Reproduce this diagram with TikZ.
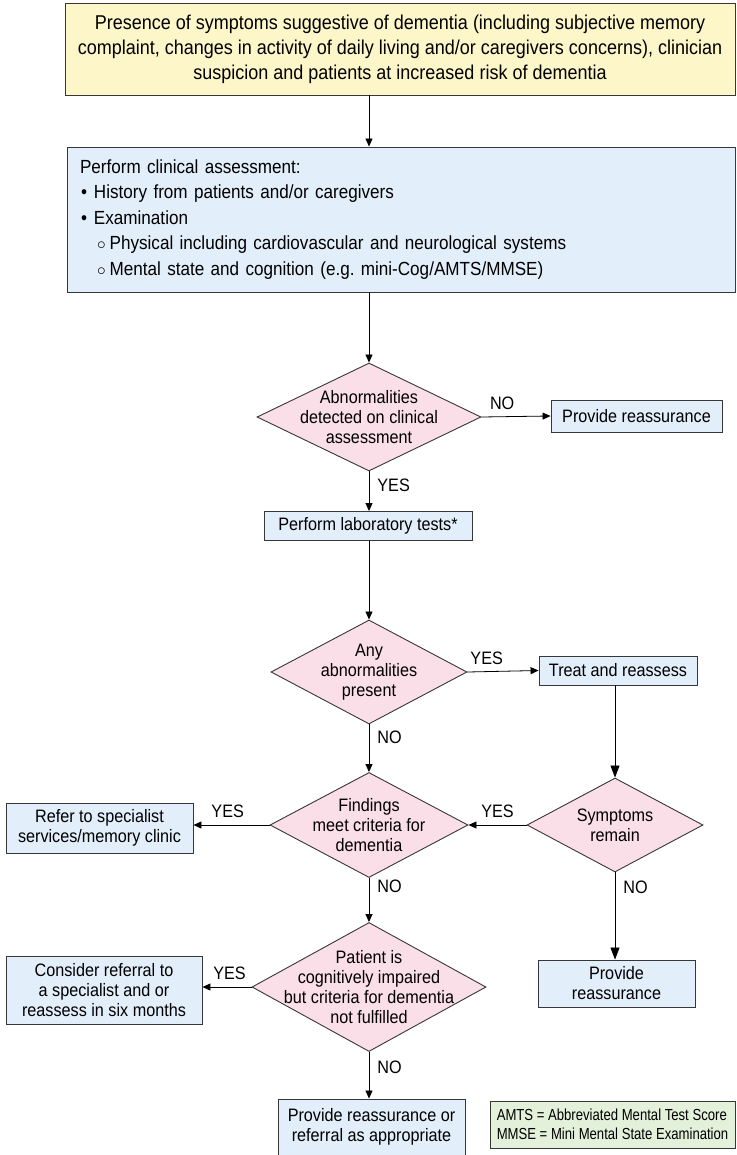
\documentclass[tikz,border=0pt]{standalone}
\usepackage{fontspec}
\setmainfont{Liberation Sans}[FakeStretch=0.9]
\newfontfamily\notefont{Liberation Sans}[FakeStretch=0.82]
\usepackage{tikz}
\usetikzlibrary{shapes.geometric, arrows.meta, positioning}
\definecolor{suspectfill}{RGB}{253,246,201}
\definecolor{stepblue}{RGB}{226,238,249}
\definecolor{decpink}{RGB}{250,222,232}
\definecolor{notegreen}{RGB}{227,240,218}
\definecolor{edgegray}{RGB}{55,55,55}

\begin{document}
\begin{tikzpicture}[x=1pt, y=-1pt,
    every node/.style={font=\fontsize{18}{20}\selectfont},
    box/.style={rectangle, draw=edgegray, fill=#1, align=center, inner sep=2pt, line width=0.9pt},
    box/.default=stepblue,
    decision/.style={diamond, draw=edgegray, fill=decpink, inner sep=0pt, line width=0.9pt},
    dtext/.style={align=center, font=\fontsize{18}{20}\selectfont},
    arrow/.style={-{Triangle[length=8pt, width=7pt]}, line width=0.8pt},
    bigarrow/.style={-{Triangle[length=12pt, width=9pt]}, line width=0.8pt},
    lbl/.style={inner sep=2pt}
]
\useasboundingbox (0,0) rectangle (736,1155);

% top of the chart
\node[box=suspectfill, minimum width=670, minimum height=92, font=\fontsize{20}{25}\selectfont] (suspect) at (400,49) {
    Presence of symptoms suggestive of dementia (including subjective memory\\
    complaint, changes in activity of daily living and/or caregivers concerns), clinician\\
    suspicion and patients at increased risk of dementia};

\node[box, minimum width=668, minimum height=145, align=left, text width=642, font=\fontsize{19}{25.5}\selectfont] (assess) at (401,219.5) {
    Perform clinical assessment:\\
    \hspace{1pt}\textbullet\hspace{7pt}History from patients and/or caregivers\\
    \hspace{1pt}\textbullet\hspace{7pt}Examination\\
    \hspace{17pt}$\circ$\hspace{4pt}Physical including cardiovascular and neurological systems\\
    \hspace{17pt}$\circ$\hspace{4pt}Mental state and cognition (e.g.\ mini-Cog/AMTS/MMSE)};

% decisions
\node[decision, minimum width=224, minimum height=108,
    label={[dtext]center:Abnormalities\\detected on clinical\\assessment}] (abn) at (369,417) {};
\node[box, minimum width=171, minimum height=32] (reas1) at (636.5,416) {Provide reassurance};
\node[box, minimum width=208, minimum height=29] (lab) at (368,526) {Perform laboratory tests*};

\node[decision, minimum width=196, minimum height=104,
    label={[dtext]center:Any\\abnormalities\\present}] (anyab) at (369,672) {};
\node[box, minimum width=158, minimum height=29] (treat) at (618,670.5) {Treat and reassess};

\node[decision, minimum width=176, minimum height=94,
    label={[dtext]center:Symptoms\\remain}] (symp) at (615,825) {};
\node[decision, minimum width=198, minimum height=105,
    label={[dtext]center:Findings\\meet criteria for\\dementia}] (find) at (369,825) {};
\node[box, minimum width=187, minimum height=50] (refer) at (99.5,828) {Refer to specialist\\services/memory clinic};

\node[decision, minimum width=234, minimum height=129,
    label={[dtext]center:Patient is\\cognitively impaired\\but criteria for dementia\\not fulfilled}] (pat) at (369,987) {};
\node[box, minimum width=196, minimum height=68] (consider) at (104,990) {Consider referral to\\a specialist and or\\reassess in six months};
\node[box, minimum width=157, minimum height=47] (reas2) at (616.5,983.5) {Provide\\reassurance};
\node[box, minimum width=187, minimum height=56] (final) at (371.5,1127) {Provide reassurance or\\referral as appropriate};

\node[box=notegreen, minimum width=245, minimum height=47, align=left, font=\notefont\fontsize{16}{19}\selectfont] (abbrev) at (612.5,1124.5) {
    AMTS = Abbreviated Mental Test Score\\
    MMSE = Mini Mental State Examination};

% connectors
\draw[arrow] (suspect.south -| abn.north) -- (assess.north -| abn.north);
\draw[arrow] (assess.south -| abn.north) -- (abn.north);
\draw[arrow] (abn.east) -- node[lbl, above=5pt, pos=0.3] (no1) {NO} (reas1.west);
\draw[arrow] (abn.south) -- node[lbl, right=6pt, pos=0.35] (yes1) {YES} (lab.north -| abn.south);
\draw[arrow] (lab.south -| anyab.north) -- (anyab.north);
\draw[arrow] (anyab.east) -- node[lbl, above=5pt, pos=0.27] (yes2) {YES} (treat.west);
\draw[arrow] (anyab.south) -- node[lbl, right=6pt, pos=0.27] (no2) {NO} (find.north);
\draw[bigarrow] (treat.south -| symp.north) -- (symp.north);
\draw[arrow] (symp.west) -- node[lbl, above=5pt, pos=0.5] (yes3) {YES} (find.east);
\draw[arrow] (find.west) -- node[lbl, above=5pt, pos=0.55] (yes4) {YES} (find.west -| refer.east);
\draw[arrow] (find.south) -- node[lbl, right=6pt, pos=0.2] (no3) {NO} (pat.north);
\draw[bigarrow] (symp.south) -- node[lbl, right=6pt, pos=0.17] (no4) {NO} (reas2.north -| symp.south);
\draw[arrow] (pat.west) -- node[lbl, above=5pt, pos=0.45] (yes5) {YES} (pat.west -| consider.east);
\draw[arrow] (pat.south) -- node[lbl, right=6pt, pos=0.32] (no5) {NO} (final.north -| pat.south);

\end{tikzpicture}
\end{document}
